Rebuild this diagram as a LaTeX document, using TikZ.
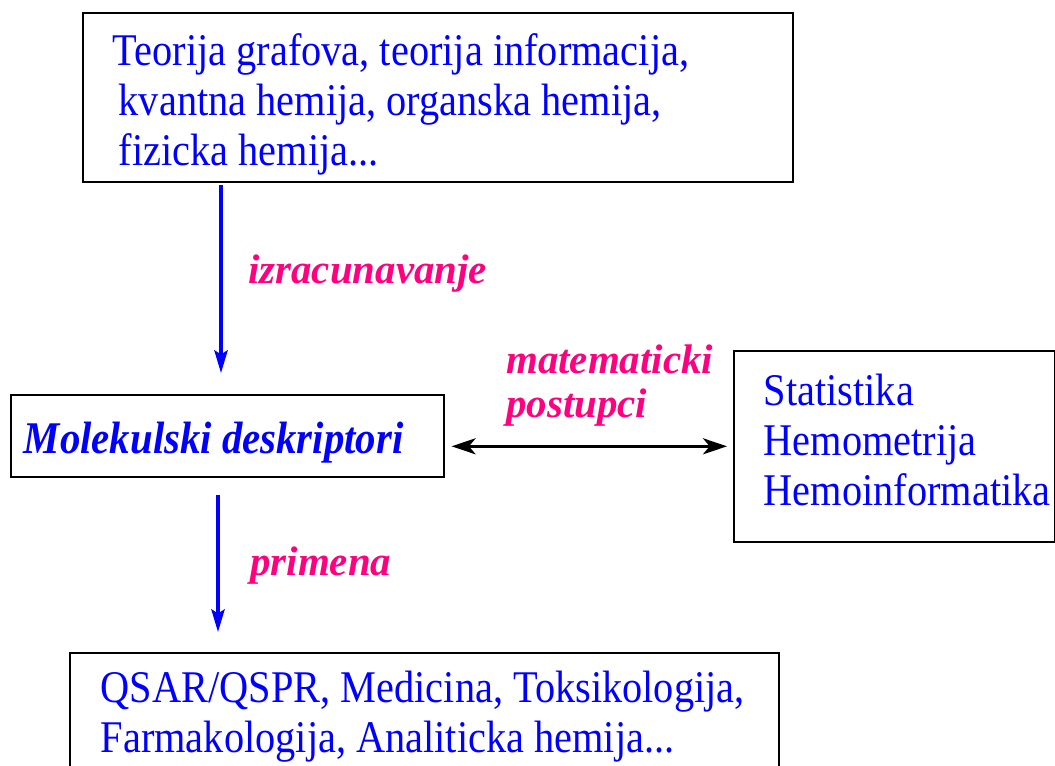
\documentclass[tikz,border=0pt]{standalone}
\usepackage{fontspec}
\setmainfont{Liberation Serif}
\newfontfamily\boxfont{Liberation Serif}[FakeStretch=0.89]
\newfontfamily\descfont{Liberation Serif}[FakeStretch=0.9]
\newfontfamily\labfont{Liberation Serif}[FakeStretch=0.99]
\usetikzlibrary{arrows.meta}
\definecolor{labelpink}{RGB}{255,0,128}

\tikzset{
  box/.style={draw, line width=1.2pt, anchor=north west, align=flush left, inner ysep=0pt, text=blue},
  boxtext/.style={font=\fontsize{34}{37.5}\boxfont},
  bluearrow/.style={draw=blue, line width=2.3pt, -{Stealth[length=17pt,width=10pt,inset=3pt]}},
  dblarrow/.style={draw=black, line width=2.3pt, {Stealth[length=18pt,width=12pt,inset=5pt]}-{Stealth[length=18pt,width=12pt,inset=5pt]}},
  lab/.style={text=labelpink, font=\fontsize{31}{33}\labfont\bfseries\itshape, anchor=base west, inner sep=0pt, align=left},
}

\begin{document}
\begin{tikzpicture}[x=0.75pt, y=-0.75pt]
	\useasboundingbox (0,0) rectangle (1055,765);

	% boxes
	\node[box, boxtext, text width=487.5pt, inner xsep=22.5pt, minimum height=126.75pt, text height=35.25pt, text depth=82.5pt] (theory) at (82,12)
		{Teorija grafova, teorija informacija,\\ \hspace*{4.5pt}kvantna hemija, organska hemija,\\ \hspace*{4.5pt}fizicka hemija...};
	\node[box, text width=305.25pt, inner xsep=9.75pt, minimum height=61.5pt, text height=34.5pt, text depth=7.5pt, font=\fontsize{34}{37.5}\descfont\bfseries\itshape] (desc) at (10,394)
		{Molekulski deskriptori};
	\node[box, boxtext, text width=195.75pt, inner xsep=22.5pt, minimum height=143.25pt, text height=23.25pt, text depth=84pt] (stat) at (733,350)
		{Statistika\\Hemometrija\\Hemoinformatika};
	\node[box, boxtext, text width=485.25pt, inner xsep=23.25pt, minimum height=105pt, text height=23.25pt, text depth=53.25pt] (apps) at (69,652)
		{QSAR/QSPR, Medicina, Toksikologija,\\Farmakologija, Analiticka hemija...};

	% labels
	\node[lab] (izr) at (248,283) {izracunavanje};
	\node[lab] (mat) at (506,417) {matematicki\\postupci};
	\node[lab] (prim) at (250,575) {primena};

	% arrows
	\coordinate (a1) at (221,0);
	\coordinate (a2) at (218,0);
	\draw[bluearrow, shorten <=1.5pt, shorten >=15.75pt] (theory.south -| a1) -- (desc.north -| a1);
	\draw[bluearrow, shorten <=12.75pt, shorten >=15pt] (desc.south -| a2) -- (apps.north -| a2);
	\draw[dblarrow, shorten <=5.25pt, shorten >=4.5pt] (desc.east |- stat.west) -- (stat.west);
\end{tikzpicture}
\end{document}
